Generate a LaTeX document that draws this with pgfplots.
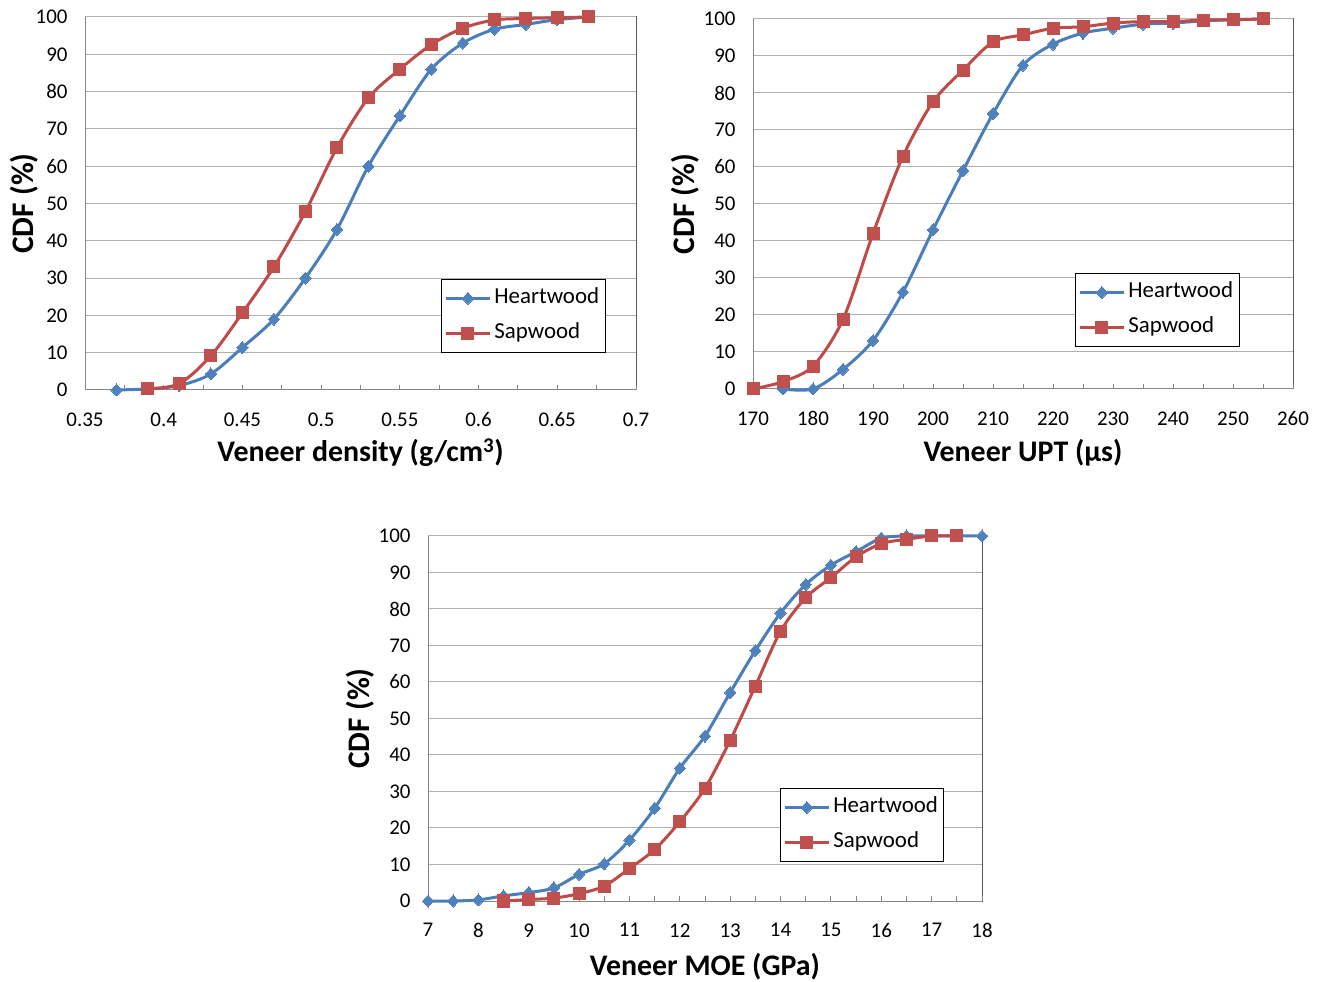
\documentclass[border=0pt]{standalone}
\usepackage{fontspec}
\setmainfont{Carlito}
\usepackage{pgfplots}
\pgfplotsset{compat=1.18}
\definecolor{hwline}{HTML}{4A7EBB}
\definecolor{hwfill}{HTML}{4F81BD}
\definecolor{swline}{HTML}{BE4B48}
\definecolor{swfill}{HTML}{C0504D}
\definecolor{axgray}{HTML}{868686}
\definecolor{gridgray}{HTML}{B0B0B0}
\definecolor{framegray}{HTML}{595959}
\pgfplotsset{
  cdfstyle/.style={
    scale only axis, enlargelimits=false, ymin=0, ymax=100, ytick={0,10,...,100},
    axis x line*=bottom, axis y line*=left,
    axis line style={draw=axgray, line width=1bp},
    axis background/.style={draw=framegray, line width=1bp},
    ymajorgrids, grid style={draw=gridgray, line width=1bp},
    ytick style={draw=none},
    xtick style={draw=axgray, line width=1bp},
    xtick align=inside, major tick length=5bp, minor tick length=5bp,
    minor x tick num=1,
    ticklabel style={font=\fontsize{21}{25}\selectfont},
    /pgf/number format/assume math mode=true,
    /pgf/number format/1000 sep={},
    yticklabel style={xshift=-14bp},
    xticklabel style={yshift=-19bp},
    xlabel style={font=\fontsize{30}{34}\selectfont\bfseries},
    ylabel style={font=\fontsize{31.5}{35}\selectfont\bfseries},
    ylabel={CDF (\%)},
    clip=false,
    legend cell align=left,
    legend style={draw=black, line width=1bp, fill=white,
      font=\fontsize{23}{27}\selectfont,
      inner xsep=3bp, inner ysep=1.5bp, row sep=0bp,
      nodes={inner xsep=3bp, inner ysep=7bp, text height=16bp, text depth=5bp}},
    legend image code/.code={\draw[mark repeat=2,mark phase=2,#1] plot coordinates {(0bp,0bp) (22bp,0bp) (44bp,0bp)};},
  },
  hw/.style={color=hwline, line width=3bp, smooth, tension=0.5, mark=diamond*, mark size=6bp,
    mark options={fill=hwfill, draw=hwfill, line width=0bp, xscale=1.25}},
  sw/.style={color=swline, line width=3bp, smooth, tension=0.5, mark=square*, mark size=6bp,
    mark options={fill=swfill, draw=swfill, line width=0bp}},
}
\begin{document}
\begin{tikzpicture}
\path[use as bounding box] (0bp,0bp) rectangle (1319bp,982bp);
% Chart 1
\begin{axis}[cdfstyle,
  at={(85bp,592bp)}, anchor=south west, width=551bp, height=373bp,
  xmin=0.35, xmax=0.7,
  xtick={0.35,0.4,0.45,0.5,0.55,0.6,0.65,0.7},
  xticklabels={0.35,0.4,0.45,0.5,0.55,0.6,0.65,0.7},
  xlabel={Veneer density (g/cm\textsuperscript{3})},
  xlabel style={at={(axis description cs:0.5,-0.169)}, anchor=center},
  ylabel style={at={(axis description cs:-0.1107,0.5)}, anchor=center},
  legend style={at={(0.646,0.298)}, anchor=north west},
]
\addplot[hw] coordinates {(0.37,0) (0.39,0.3) (0.41,1.2) (0.43,4.3) (0.45,11.4) (0.47,19) (0.49,30) (0.51,43) (0.53,60) (0.55,73.5) (0.57,86) (0.59,93) (0.61,96.7) (0.63,98) (0.65,99.3) (0.67,100)};
\addlegendentry{Heartwood}
\addplot[sw] coordinates {(0.39,0.3) (0.41,1.7) (0.43,9.2) (0.45,20.7) (0.47,33) (0.49,47.8) (0.51,64.9) (0.53,78.3) (0.55,86) (0.57,92.6) (0.59,97) (0.61,99.2) (0.63,99.6) (0.65,99.8) (0.67,100)};
\addlegendentry{Sapwood}
\end{axis}
% Chart 2
\begin{axis}[cdfstyle,
  at={(753bp,593bp)}, anchor=south west, width=540bp, height=370bp,
  xmin=170, xmax=260,
  xtick={170,180,...,260},
  xlabel={Veneer UPT (µs)},
  xlabel style={at={(axis description cs:0.5,-0.173)}, anchor=center},
  ylabel style={at={(axis description cs:-0.126,0.5)}, anchor=center},
  legend style={at={(0.596,0.3135)}, anchor=north west},
]
\addplot[hw] coordinates {(175,0) (180,0) (185,5.3) (190,13.1) (195,26.2) (200,43) (205,59) (210,74.4) (215,87.5) (220,93.2) (225,96.2) (230,97.5) (235,98.6) (240,98.9) (245,99.5) (250,99.8) (255,100)};
\addlegendentry{Heartwood}
\addplot[sw] coordinates {(170,0) (175,2) (180,6.2) (185,18.8) (190,42) (195,62.9) (200,77.6) (205,86.2) (210,93.8) (215,95.7) (220,97.5) (225,97.9) (230,98.9) (235,99.3) (240,99.3) (245,99.7) (250,99.8) (255,100)};
\addlegendentry{Sapwood}
\end{axis}
% Chart 3
\begin{axis}[cdfstyle,
  at={(428bp,81bp)}, anchor=south west, width=554bp, height=365bp,
  xmin=7, xmax=18,
  xtick={7,8,...,18},
  xlabel={Veneer MOE (GPa)},
  xlabel style={at={(axis description cs:0.5,-0.181)}, anchor=center},
  ylabel style={at={(axis description cs:-0.1227,0.5)}, anchor=center},
  legend style={at={(0.635,0.3096)}, anchor=north west},
]
\addplot[hw] coordinates {(7,0) (7.5,0) (8,0.3) (8.5,1.4) (9,2.3) (9.5,3.6) (10,7.3) (10.5,10.2) (11,16.7) (11.5,25.4) (12,36.4) (12.5,45.2) (13,57.1) (13.5,68.6) (14,78.9) (14.5,86.7) (15,92) (15.5,95.7) (16,99.4) (16.5,100) (17,100) (17.5,100) (18,100)};
\addlegendentry{Heartwood}
\addplot[sw] coordinates {(8.5,0) (9,0.4) (9.5,0.8) (10,2) (10.5,4.1) (11,8.9) (11.5,14.1) (12,21.7) (12.5,30.9) (13,44) (13.5,58.9) (14,73.9) (14.5,83.1) (15,88.6) (15.5,94.3) (16,97.9) (16.5,99.1) (17,100) (17.5,100)};
\addlegendentry{Sapwood}
\end{axis}
\end{tikzpicture}
\end{document}
